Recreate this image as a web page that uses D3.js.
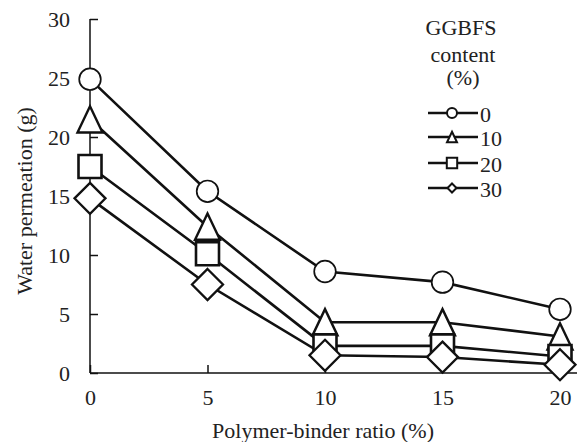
<!DOCTYPE html>
<html><head><meta charset="utf-8">
<script src="https://cdn.jsdelivr.net/npm/d3@7"></script>
<style>body{margin:0;background:#fff}svg{display:block}</style>
</head><body>
<svg id="c" width="577" height="442"></svg>
<script>
const ratios = [0, 5, 10, 15, 20];
const seriesNames = ["0", "10", "20", "30"];
const s0 = [24.9, 15.4, 8.6, 7.7, 5.4];
const s10 = [21.5, 12.4, 4.3, 4.3, 3.1];
const s20 = [17.5, 10.1, 2.3, 2.3, 1.4];
const s30 = [14.8, 7.5, 1.5, 1.35, 0.7];
const yTicks = [0, 5, 10, 15, 20, 25, 30];
const xTicks = [0, 5, 10, 15, 20];
const shapes = ["circle", "triangle", "square", "diamond"];

const SERIF = "'Liberation Serif'";
const svg = d3.select("#c");
const x = d3.scaleLinear().domain([0, 20]).range([90, 560]);
const y = d3.scaleLinear().domain([0, 30]).range([373, 19]);
const FONT = 22;
function styleText(sel, size) {
  return sel.style("font-family", SERIF).style("font-size", size + "px").style("fill", "#222");
}

// axes
const yAxis = d3.axisLeft(y).tickValues(yTicks).tickSize(-8).tickPadding(20);
const gy = svg.append("g").attr("transform", "translate(90,0)").call(yAxis);
gy.select(".domain").remove();
gy.selectAll(".tick line").attr("stroke", "#111").attr("stroke-width", 1.5);
styleText(gy.selectAll(".tick text"), FONT);
svg.append("line").attr("x1", 90).attr("x2", 90).attr("y1", y(30)).attr("y2", y(0)).attr("stroke", "#111").attr("stroke-width", 1.5);

const xAxis = d3.axisBottom(x).tickValues(xTicks).tickSize(-8).tickPadding(16);
const gx = svg.append("g").attr("transform", "translate(0,373)").call(xAxis);
gx.select(".domain").remove();
gx.selectAll(".tick line").attr("stroke", "#111").attr("stroke-width", 1.5);
styleText(gx.selectAll(".tick text"), FONT);
svg.append("line").attr("x1", 90).attr("x2", 577).attr("y1", 373).attr("y2", 373).attr("stroke", "#111").attr("stroke-width", 1.5);

styleText(svg.append("text").attr("x", 323).attr("y", 438).attr("text-anchor", "middle"), FONT).text("Polymer-binder ratio (%)");
styleText(svg.append("text").attr("transform", "translate(32,201) rotate(-90)").attr("text-anchor", "middle"), FONT).text("Water permeation (g)");

// marker paths
function markerPath(shape, s) {
  const p = d3.path();
  if (shape === "circle") { p.moveTo(s, 0); p.arc(0, 0, s, 0, 2 * Math.PI); }
  else if (shape === "triangle") { const h = s * 1.05, w = s; p.moveTo(0, -h); p.lineTo(w, h); p.lineTo(-w, h); p.closePath(); }
  else if (shape === "square") { p.rect(-s, -s, 2 * s, 2 * s); }
  else if (shape === "diamond") { p.moveTo(0, -s); p.lineTo(s, 0); p.lineTo(0, s); p.lineTo(-s, 0); p.closePath(); }
  return p.toString();
}
const mainSize = { circle: 10.8, triangle: 12.5, square: 11.5, diamond: 15.5 };
const mainStroke = { circle: 1.7, triangle: 2.4, square: 2.6, diamond: 2.3 };
const legSize = { circle: 5, triangle: 5, square: 5.2, diamond: 4.5 };

const allSeries = [s0, s10, s20, s30];
const line = d3.line().x((d, i) => x(ratios[i])).y(d => y(d));
allSeries.forEach(vals => {
  svg.append("path").attr("d", line(vals)).attr("fill", "none").attr("stroke", "#111").attr("stroke-width", 2.6);
});
allSeries.forEach((vals, k) => {
  svg.append("g").selectAll("path").data(vals).join("path")
    .attr("transform", (d, i) => `translate(${x(ratios[i])},${y(d)})`)
    .attr("d", markerPath(shapes[k], mainSize[shapes[k]]))
    .attr("fill", "#fff").attr("stroke", "#111").attr("stroke-width", mainStroke[shapes[k]]);
});

// legend
const lg = svg.append("g");
[["GGBFS", 461, 35], ["content", 463, 62], ["(%)", 463, 85]].forEach(([t, xx, yy]) => {
  styleText(lg.append("text").attr("x", xx).attr("y", yy).attr("text-anchor", "middle"), 22).text(t);
});
const legY = [113, 137, 163, 188];
seriesNames.forEach((n, k) => {
  const yy = legY[k];
  lg.append("line").attr("x1", 428).attr("x2", 478).attr("y1", yy).attr("y2", yy).attr("stroke", "#111").attr("stroke-width", 2.6);
  lg.append("path").attr("transform", `translate(452,${yy})`).attr("d", markerPath(shapes[k], legSize[shapes[k]]))
    .attr("fill", "#fff").attr("stroke", "#111").attr("stroke-width", 2);
  styleText(lg.append("text").attr("x", 480).attr("y", yy + 8.5), 22).text(n);
});
</script>
</body></html>
